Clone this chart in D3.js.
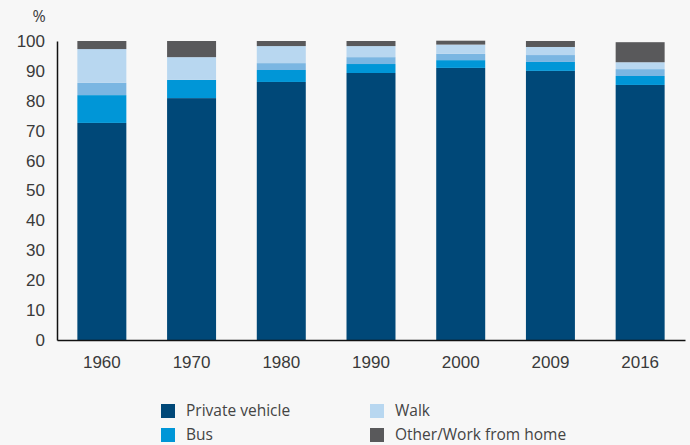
<!DOCTYPE html>
<html>
<head>
<meta charset="utf-8">
<script src="https://cdn.jsdelivr.net/npm/d3@7"></script>
<style>
  body { margin: 0; background: #f7f7f7; }
  svg { display: block; font-family: "Open Sans", sans-serif; }
  .tick text { fill: #3a3a3a; }
</style>
</head>
<body>
<svg class="chart"></svg>
<script>
// values, in %
let years = ["1960", "1970", "1980", "1990", "2000", "2009", "2016"]
let privateVehicle = [72.6, 80.9, 86.3, 89.3, 91.0, 90.0, 85.3]
let bus = [9.3, 6.1, 4.0, 3.0, 2.6, 3.0, 3.0]
let train = [4.1, 0, 2.3, 2.3, 2.1, 2.3, 2.3]
let walk = [11.3, 7.6, 5.7, 3.7, 3.1, 2.7, 2.3]
let other = [2.7, 5.4, 1.7, 1.7, 1.3, 2.0, 6.7]
let yTicks = [0, 10, 20, 30, 40, 50, 60, 70, 80, 90, 100]

let series = [
  { name: "Private vehicle", values: privateVehicle, color: "#004878", legend: true },
  { name: "Bus", values: bus, color: "#0096d7", legend: true },
  { name: "Train", values: train, color: "#7ab6e2", legend: false },
  { name: "Walk", values: walk, color: "#b8d7f0", legend: true },
  { name: "Other/Work from home", values: other, color: "#59595b", legend: true }
]

let width = 690
let height = 445

let svg = d3.select(".chart")
    .attr("width", width)
    .attr("height", height)

let x = d3.scaleBand()
    .domain(years)
    .range([57, 685])
    .paddingInner(0.454)
    .paddingOuter(0.227)

let y = d3.scaleLinear()
    .domain([0, 100])
    .range([340, 41])

let rows = years.map(function(yr, i) {
  let r = { year: yr }
  series.forEach(function(s) { r[s.name] = s.values[i] })
  return r
})

let stack = d3.stack().keys(series.map(function(s) { return s.name }))
let layers = stack(rows)

svg.selectAll("g.layer")
    .data(layers)
  .enter().append("g")
    .attr("class", "layer")
    .attr("fill", function(d, i) { return series[i].color })
  .selectAll("rect")
    .data(function(d) { return d })
  .enter().append("rect")
    .attr("x", function(d) { return x(d.data.year) })
    .attr("width", x.bandwidth())
    .attr("y", function(d) { return y(d[1]) })
    .attr("height", function(d) { return y(d[0]) - y(d[1]) })

// axes
let yAxis = svg.append("g")
    .attr("transform", "translate(57,0)")
    .call(d3.axisLeft(y).tickValues(yTicks).tickSize(0).tickPadding(12))
yAxis.select(".domain").attr("stroke", "#111").attr("stroke-width", 1.5)
yAxis.selectAll("text").attr("font-size", 17)

let xAxis = svg.append("g")
    .attr("transform", "translate(0,340)")
    .call(d3.axisBottom(x).tickSize(0).tickPadding(16))
xAxis.select(".domain").attr("stroke", "#111").attr("stroke-width", 1.5)
xAxis.selectAll("text").attr("font-size", 17)

svg.append("text")
    .attr("x", 39)
    .attr("y", 22)
    .attr("text-anchor", "middle")
    .attr("font-size", 16)
    .attr("fill", "#3a3a3a")
    .text("%")

// legend, two columns
let legendItems = series.filter(function(s) { return s.legend })
let legend = svg.selectAll("g.legend")
    .data(legendItems)
  .enter().append("g")
    .attr("class", "legend")
    .attr("transform", function(d, i) {
      let col = Math.floor(i / 2)
      let row = i % 2
      return "translate(" + (161 + col * 209) + "," + (404 + row * 24) + ")"
    })

legend.append("rect")
    .attr("width", 14)
    .attr("height", 14)
    .attr("fill", function(d) { return d.color })

legend.append("text")
    .attr("x", 25)
    .attr("y", 7)
    .attr("dy", "0.35em")
    .attr("font-size", 15.5)
    .attr("fill", "#444")
    .text(function(d) { return d.name })
</script>
</body>
</html>
